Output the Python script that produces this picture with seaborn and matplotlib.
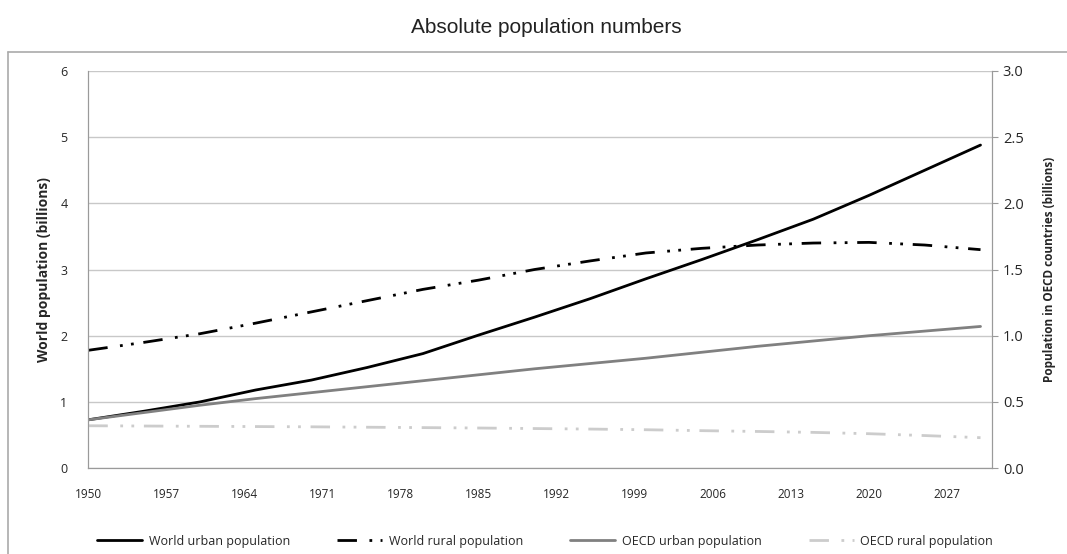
import matplotlib
matplotlib.use("Agg")
import matplotlib.pyplot as plt
import seaborn as sns
import pandas as pd

# data (billions)
years = [1950, 1955, 1960, 1965, 1970, 1975, 1980, 1985, 1990,
         1995, 2000, 2005, 2010, 2015, 2020, 2025, 2030]
world_urban = [0.73, 0.86, 1.00, 1.18, 1.33, 1.52, 1.73, 2.01, 2.28,
               2.56, 2.86, 3.15, 3.45, 3.76, 4.12, 4.50, 4.88]
world_rural = [1.78, 1.90, 2.03, 2.19, 2.36, 2.53, 2.70, 2.84, 3.00,
               3.13, 3.25, 3.32, 3.37, 3.40, 3.41, 3.37, 3.30]
oecd_urban = [0.365, 0.42, 0.475, 0.525, 0.57, 0.615, 0.66, 0.705, 0.75,
              0.79, 0.83, 0.875, 0.92, 0.96, 1.0, 1.035, 1.07]
oecd_rural = [0.32, 0.318, 0.316, 0.314, 0.312, 0.309, 0.306, 0.303, 0.299,
              0.295, 0.29, 0.283, 0.277, 0.27, 0.26, 0.246, 0.23]
xticks = list(range(1950, 2031, 7))

df = pd.DataFrame({"Year": years, "World urban population": world_urban,
                   "World rural population": world_rural,
                   "OECD urban population": oecd_urban,
                   "OECD rural population": oecd_rural})

sns.set_style("white")
plt.rcParams["font.family"] = ["Open Sans", "DejaVu Sans"]

fig = plt.figure(figsize=(10.67, 5.54), dpi=100)
ax = fig.add_axes([0.0828, 0.155, 0.8466, 0.717])
ax2 = ax.twinx()

# long dash, dot, dot
dashdotdot = (0, (7, 4.5, 1, 3, 1, 3.5))
sns.lineplot(data=df, x="Year", y="World urban population", ax=ax,
             color="black", linewidth=2, label="World urban population")
sns.lineplot(data=df, x="Year", y="World rural population", ax=ax,
             color="black", linewidth=2, linestyle=dashdotdot,
             label="World rural population")
sns.lineplot(data=df, x="Year", y="OECD urban population", ax=ax2,
             color="#808080", linewidth=2, label="OECD urban population")
sns.lineplot(data=df, x="Year", y="OECD rural population", ax=ax2,
             color="#cccccc", linewidth=2, linestyle=dashdotdot,
             label="OECD rural population")

ax.set_xlim(1950, 2031)
ax.set_ylim(0, 6)
ax2.set_ylim(0, 3)
ax.set_xticks(xticks)
ax.set_yticks(range(0, 7))
ax2.set_yticks([0, 0.5, 1.0, 1.5, 2.0, 2.5, 3.0])
ax2.set_yticklabels([f"{v:.1f}" for v in ax2.get_yticks()])
ax.grid(axis="y", color="#c8c8c8", linewidth=1)
ax.set_axisbelow(True)

for a in (ax, ax2):
    for s in a.spines.values():
        s.set_color("#9a9a9a")
    a.spines["top"].set_visible(False)
ax.tick_params(axis="x", direction="out", length=4, color="#9a9a9a",
               labelsize=8.5, pad=10)
ax.tick_params(axis="y", length=0, labelsize=9, pad=15)
ax2.tick_params(axis="y", direction="out", length=4, color="#9a9a9a",
                labelsize=10.5, pad=4)

ax.set_xlabel("")
ax.set_ylabel("World population (billions)", fontsize=10,
              fontweight="bold", labelpad=7)
ax2.set_ylabel("Population in OECD countries (billions)", fontsize=8.5,
               fontweight="bold", labelpad=14)

handles, labels = [], []
for a in (ax, ax2):
    h, l = a.get_legend_handles_labels()
    handles += h
    labels += l
    a.get_legend().remove()
fig.legend(handles, labels, loc="center", ncol=4, frameon=False,
           fontsize=9, bbox_to_anchor=(0.511, 1 - 541 / 554),
           handlelength=3.6, handletextpad=0.5, columnspacing=3.8)

fig.text(0.512, 1 - 33 / 554, "Absolute population numbers", ha="center",
         va="baseline", fontsize=15, color="#222222",
         family=["Liberation Sans", "DejaVu Sans"])

# outer chart frame (top and left edges visible in the crop)
fig.add_artist(plt.Line2D([0.0075, 1.0], [0.906, 0.906],
                          color="#aaaaaa", linewidth=1.2))
fig.add_artist(plt.Line2D([0.0075, 0.0075], [0.0, 0.906],
                          color="#aaaaaa", linewidth=1.2))

fig.savefig("out.png", dpi=100, facecolor="white")
